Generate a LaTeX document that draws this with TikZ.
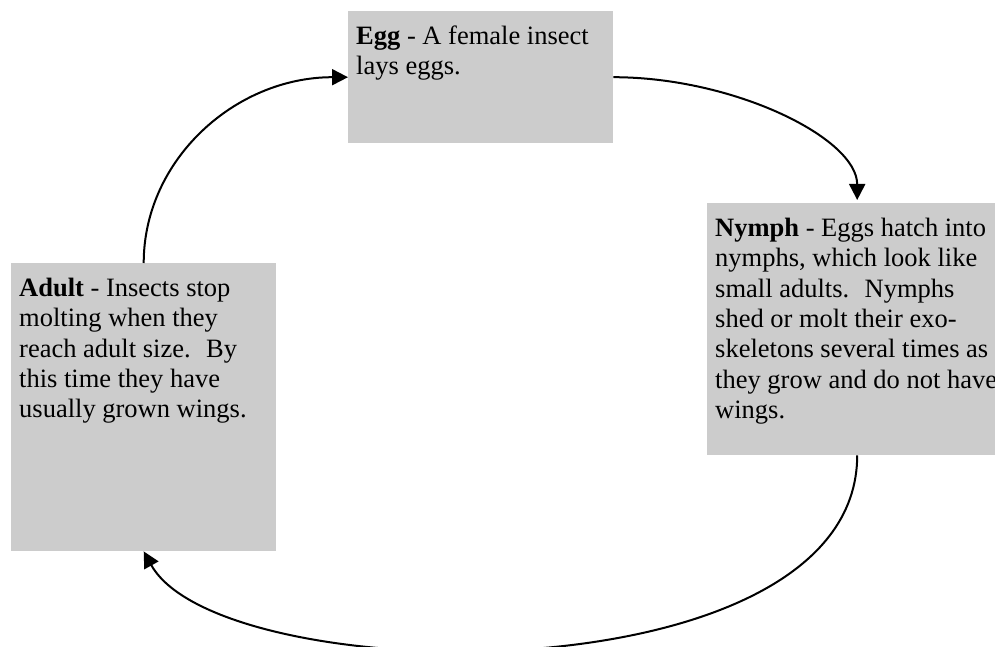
\documentclass[tikz,border=0pt]{standalone}
\usepackage{fontspec}
\setmainfont{Liberation Serif}
\usetikzlibrary{arrows.meta}
\definecolor{StageGray}{HTML}{CCCCCC}
\newcommand{\stagetext}[3]{\parbox[c][#2][t]{#1}{\strut#3}}

\begin{document}
\begin{tikzpicture}[x=1bp,y=-1bp,
  stage/.style={fill=StageGray,anchor=north west,inner xsep=8bp,inner ysep=11.5bp,
    font=\fontsize{26.6}{30.6}\selectfont},
  lifearrow/.style={line width=2bp,-{Triangle[length=16bp,width=16bp]}}]
  \useasboundingbox (0,0) rectangle (995,647);
  \clip (0,0) rectangle (995,647);
  \node[stage] (egg) at (348,11)
    {\stagetext{249bp}{109bp}{\textbf{Egg} - A female insect\\lays eggs.}};
  \node[stage] (nymph) at (707,203)
    {\stagetext{284bp}{229bp}{\textbf{Nymph} - Eggs hatch into\\nymphs, which look like\\small adults.~ Nymphs\\shed or molt their exo-\\skeletons several times as\\they grow and do not have\\wings.}};
  \node[stage] (adult) at (11,263)
    {\stagetext{249bp}{265bp}{\textbf{Adult} - Insects stop\\molting when they\\reach adult size.~ By\\this time they have\\usually grown wings.}};
  \draw[lifearrow,shorten >=3bp] (egg.east) .. controls +(120,0) and +(0,-65) .. (nymph.north);
  \draw[lifearrow] (nymph.south) .. controls +(0,245) and +(77,139) .. (adult.south);
  \draw[lifearrow] (adult.north) .. controls +(0,-103) and +(-113,0) .. (egg.west);
\end{tikzpicture}
\end{document}
